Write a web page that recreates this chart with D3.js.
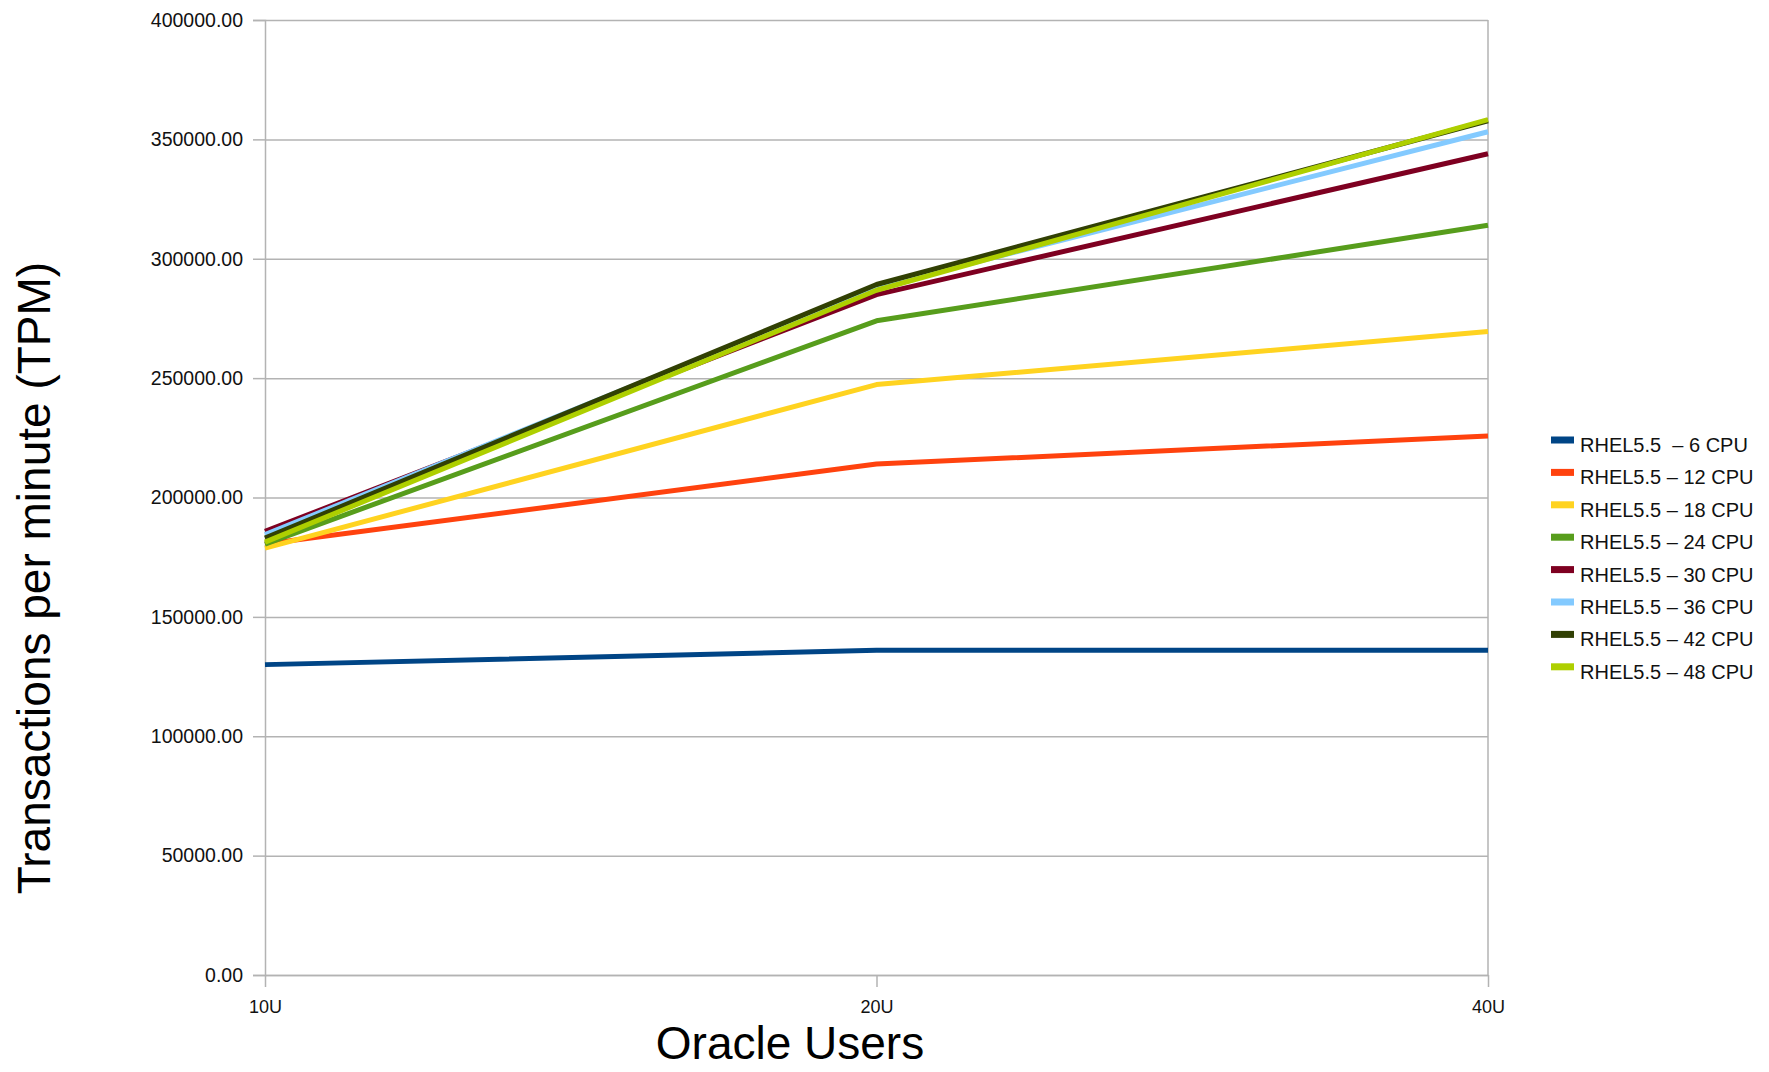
<!DOCTYPE html>
<html>
<head>
<meta charset="utf-8">
<script src="https://cdn.jsdelivr.net/npm/d3@7"></script>
<style>
  html, body { margin: 0; padding: 0; background: #fff; }
  svg { display: block; font-family: "Liberation Sans", Arial, sans-serif; }
</style>
</head>
<body>
<svg id="chart" width="1769" height="1072"></svg>
<script>
// Oracle OLTP throughput by CPU count
const categories = ["10U", "20U", "40U"];
const seriesNames = [
  "RHEL5.5  \u2013 6 CPU",
  "RHEL5.5 \u2013 12 CPU",
  "RHEL5.5 \u2013 18 CPU",
  "RHEL5.5 \u2013 24 CPU",
  "RHEL5.5 \u2013 30 CPU",
  "RHEL5.5 \u2013 36 CPU",
  "RHEL5.5 \u2013 42 CPU",
  "RHEL5.5 \u2013 48 CPU"
];
const cpu6  = [130000, 136000, 136000];
const cpu12 = [180500, 214000, 225800];
const cpu18 = [178800, 247300, 269500];
const cpu24 = [180500, 274000, 314000];
const cpu30 = [185800, 285000, 344000];
const cpu36 = [184500, 288000, 353200];
const cpu42 = [183000, 289200, 357800];
const cpu48 = [181300, 286800, 358300];
const yTicks = [0, 50000, 100000, 150000, 200000, 250000, 300000, 350000, 400000];
const colors = ["#004586", "#ff420e", "#ffd320", "#579d1c", "#7e0021", "#83caff", "#314004", "#aecf00"];

const seriesValues = [cpu6, cpu12, cpu18, cpu24, cpu30, cpu36, cpu42, cpu48];
const series = seriesNames.map((name, i) => ({ name, color: colors[i], values: seriesValues[i] }));

const svg = d3.select("#chart");
const plotLeft = 265, plotRight = 1488, plotTop = 20, plotBottom = 975;
const gridColor = "#b3b3b3";

const x = d3.scalePoint().domain(categories).range([plotLeft, plotRight]);
const y = d3.scaleLinear().domain([0, 400000]).range([plotBottom, plotTop]);

// horizontal gridlines
svg.append("g")
  .attr("transform", `translate(${plotLeft},0)`)
  .call(d3.axisLeft(y).tickValues(yTicks).tickSize(-(plotRight - plotLeft)).tickFormat(""))
  .call(g => g.select(".domain").remove())
  .call(g => g.selectAll(".tick line").attr("stroke", gridColor).attr("stroke-width", 1.5));

// right frame edge
svg.append("line")
  .attr("x1", plotRight).attr("x2", plotRight).attr("y1", plotTop).attr("y2", plotBottom)
  .attr("stroke", gridColor).attr("stroke-width", 1.5);

// y axis
svg.append("g")
  .attr("transform", `translate(${plotLeft},0)`)
  .call(d3.axisLeft(y).tickValues(yTicks).tickSize(12).tickPadding(10).tickFormat(d3.format(".2f")))
  .call(g => g.select(".domain").attr("stroke", gridColor).attr("stroke-width", 1.5))
  .call(g => g.selectAll(".tick line").attr("stroke", gridColor).attr("stroke-width", 1.5))
  .call(g => g.selectAll(".tick text")
    .attr("fill", "#111").style("font-size", "19.5px").style("font-family", "'Liberation Sans', Arial, sans-serif"));

// x axis
svg.append("g")
  .attr("transform", `translate(0,${plotBottom})`)
  .call(d3.axisBottom(x).tickSize(12).tickPadding(13).tickSizeOuter(0))
  .call(g => g.select(".domain").attr("stroke", gridColor).attr("stroke-width", 1.5))
  .call(g => g.selectAll(".tick line").attr("stroke", gridColor).attr("stroke-width", 1.5))
  .call(g => g.selectAll(".tick text")
    .attr("fill", "#111").style("font-size", "18px").style("font-family", "'Liberation Sans', Arial, sans-serif"));

// series lines
const line = d3.line()
  .x((d, i) => x(categories[i]))
  .y(d => y(d));

svg.append("g")
  .selectAll("path")
  .data(series)
  .join("path")
  .attr("d", d => line(d.values))
  .attr("fill", "none")
  .attr("stroke", d => d.color)
  .attr("stroke-width", 5)
  .attr("stroke-linejoin", "round");

// legend
const legend = svg.append("g").attr("transform", "translate(1551,440)");
const rows = legend.selectAll("g")
  .data(series)
  .join("g")
  .attr("transform", (d, i) => `translate(0,${i * 32.4})`);
rows.append("rect")
  .attr("x", 0).attr("y", -3.5).attr("width", 23).attr("height", 7)
  .attr("fill", d => d.color);
rows.append("text")
  .attr("x", 29).attr("y", 12)
  .style("font-size", "20px")
  .style("white-space", "pre")
  .attr("fill", "#111")
  .text(d => d.name);

// axis titles
svg.append("text")
  .attr("transform", "translate(50,578) rotate(-90)")
  .attr("text-anchor", "middle")
  .style("font-size", "46px")
  .attr("fill", "#000")
  .text("Transactions per minute (TPM)");

svg.append("text")
  .attr("x", 790).attr("y", 1059)
  .attr("text-anchor", "middle")
  .style("font-size", "46px")
  .attr("fill", "#000")
  .text("Oracle Users");
</script>
</body>
</html>
